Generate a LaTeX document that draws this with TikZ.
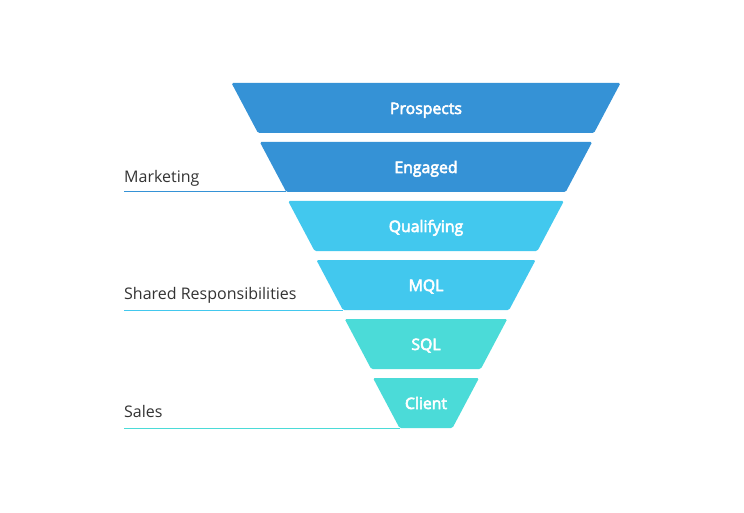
\documentclass[tikz,border=0pt]{standalone}
\usepackage{fontspec}
\setmainfont{Open Sans}
\newfontfamily\semib{Open Sans}[FakeBold=3.5]
\definecolor{cBlue}{HTML}{3592D6}
\definecolor{cCyan}{HTML}{42C8EE}
\definecolor{cTeal}{HTML}{4BDBD8}
\definecolor{cText}{HTML}{333333}
\begin{document}
\begin{tikzpicture}[x=1pt,y=-1pt,
  stage/.style={text=white, font=\semib\fontsize{15.8}{19}\selectfont, inner sep=0pt, anchor=base},
  lbl/.style={text=cText, font=\fontsize{16}{19}\selectfont, inner sep=0pt, anchor=base west},
  uline/.style={line width=1pt}]
\useasboundingbox[fill=white] (0,0) rectangle (744,513);
\foreach \i/\nm/\txt/\col in {0/p/Prospects/cBlue, 1/e/Engaged/cBlue, 2/q/Qualifying/cCyan, 3/m/MQL/cCyan, 4/s/SQL/cTeal, 5/c/Client/cTeal}{
  \pgfmathsetmacro\yt{83+59*\i}
  \pgfmathsetmacro\yb{\yt+50}
  \pgfmathsetmacro\wt{194.5-28.3*\i}
  \pgfmathsetmacro\wb{\wt-26.5}
  \fill[\col, rounded corners=1.5pt] (426-\wt,\yt) -- (426+\wt,\yt) -- (426+\wb,\yb) -- (426-\wb,\yb) -- cycle;
  \coordinate (\nm-bl) at (426-\wb,\yb);
  \node[stage] (\nm) at (426,\yt+31) {\txt};
}
\node[lbl] (mkt) at (124,182.5) {Marketing};
\node[lbl] (shr) at (124,299) {Shared Responsibilities};
\node[lbl] (sal) at (124,417.5) {Sales};
\draw[uline, cBlue] (mkt.south west |- e-bl) -- (e-bl);
\draw[uline, cCyan] (shr.south west |- m-bl) -- (m-bl);
\draw[uline, cTeal] (sal.south west |- c-bl) -- (c-bl);
\end{tikzpicture}
\end{document}
